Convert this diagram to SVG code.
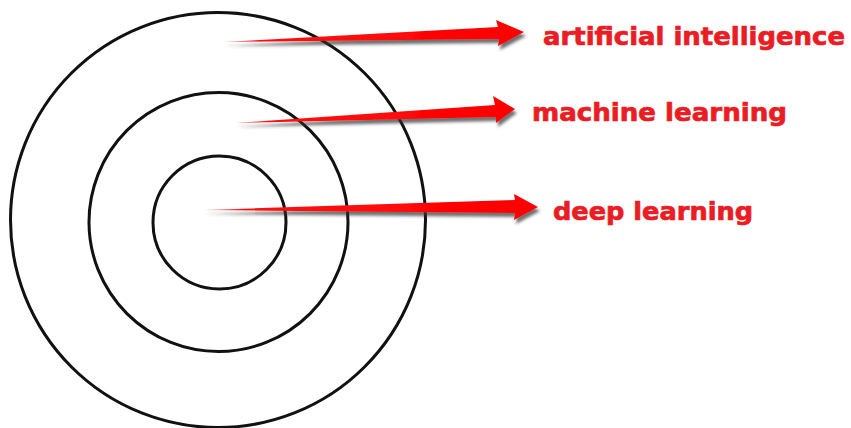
<svg xmlns="http://www.w3.org/2000/svg" width="851" height="428" viewBox="0 0 851 428">
<style>
.ring{fill:none;stroke:#111;stroke-width:3}
.lbl{font-family:"DejaVu Sans","Verdana",sans-serif;font-weight:bold;font-size:24.5px;fill:#ea1c24;stroke:#ea1c24;stroke-width:0.7}
.arrow{fill:url(#fade);filter:url(#sh)}
</style>
<defs>
<filter id="sh" x="-5%" y="-50%" width="110%" height="250%">
<feDropShadow dx="2" dy="4" stdDeviation="1.6" flood-color="#333" flood-opacity="0.7"/>
</filter>
<linearGradient id="fade" x1="0" y1="0" x2="1" y2="0">
<stop offset="0" stop-color="#ff9a9a"/>
<stop offset="0.12" stop-color="#ff1010"/>
<stop offset="1" stop-color="#ff0000"/>
</linearGradient>
</defs>
<rect width="851" height="428" fill="#fff"/>
<g id="rings">
<circle id="ai-ring" class="ring" cx="218" cy="220" r="207.5"/>
<circle id="ml-ring" class="ring" cx="218.5" cy="222" r="129.5"/>
<circle id="dl-ring" class="ring" cx="219.5" cy="222.5" r="66.5"/>
</g>
<g id="connectors">
<path class="arrow" d="M223,42 L498,27 L496,20 L524,32 L498,46 L499,39 Z"/>
<path class="arrow" d="M235,123 L495,105 L493,96 L515,109 L496,123 L496,117 Z"/>
<path class="arrow" d="M203,210 L515,200 L514,194 L538,207 L514,220 L515,213 Z"/>
</g>
<g id="label-ai"><text class="lbl" x="543" y="45" textLength="302" lengthAdjust="spacingAndGlyphs">artificial intelligence</text></g>
<g id="label-ml"><text class="lbl" x="532" y="121" textLength="255" lengthAdjust="spacingAndGlyphs">machine learning</text></g>
<g id="label-dl"><text class="lbl" x="553" y="220" textLength="200" lengthAdjust="spacingAndGlyphs">deep learning</text></g>
</svg>
